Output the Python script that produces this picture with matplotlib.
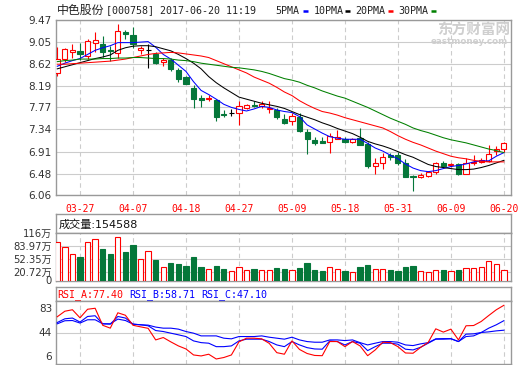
import matplotlib
matplotlib.use('Agg')
import matplotlib.pyplot as plt
from matplotlib.patches import Rectangle
from matplotlib.lines import Line2D
from matplotlib.transforms import offset_copy
import numpy as np

plt.rcParams['font.family'] = ['DejaVu Sans', 'Noto Sans CJK SC']

# --- data ---
dates = ['03-22', '03-23', '03-24', '03-27', '03-28', '03-29', '03-30', '03-31', '04-05', '04-06',
         '04-07', '04-10', '04-11', '04-12', '04-13', '04-14', '04-17', '04-18', '04-19', '04-20',
         '04-21', '04-24', '04-25', '04-26', '04-27', '04-28', '05-02', '05-03', '05-04', '05-05',
         '05-08', '05-09', '05-10', '05-11', '05-12', '05-15', '05-16', '05-17', '05-18', '05-19',
         '05-22', '05-23', '05-24', '05-25', '05-26', '05-31', '06-01', '06-02', '06-05', '06-06',
         '06-07', '06-08', '06-09', '06-12', '06-13', '06-14', '06-15', '06-16', '06-19', '06-20']

opens = [8.43, 8.72, 8.85, 8.86, 8.76, 9.03, 9.00, 8.89, 8.82, 9.23,
         9.18, 8.89, 8.89, 8.80, 8.66, 8.69, 8.49, 8.37, 8.15, 7.95,
         7.93, 7.92, 7.65, 7.66, 7.66, 7.75, 7.82, 7.80, 7.73, 7.71,
         7.55, 7.50, 7.59, 7.30, 7.14, 7.12, 7.10, 7.15, 7.15, 7.10,
         7.17, 7.06, 6.63, 6.68, 6.84, 6.85, 6.69, 6.44, 6.42, 6.43,
         6.52, 6.69, 6.65, 6.66, 6.48, 6.68, 6.71, 6.73, 6.92, 6.96]
highs = [8.95, 8.92, 9.00, 9.02, 9.10, 9.23, 9.16, 8.97, 9.39, 9.27,
         9.34, 8.97, 9.01, 8.85, 8.74, 8.74, 8.54, 8.38, 8.20, 8.02,
         8.02, 7.94, 7.71, 7.74, 7.89, 7.83, 7.90, 7.90, 7.89, 7.76,
         7.65, 7.66, 7.66, 7.35, 7.19, 7.19, 7.27, 7.33, 7.19, 7.17,
         7.37, 7.09, 6.78, 6.88, 6.88, 6.90, 6.76, 6.45, 6.50, 6.53,
         6.71, 6.73, 6.69, 6.69, 6.78, 6.84, 6.78, 7.04, 7.01, 7.10]
lows = [8.38, 8.65, 8.73, 8.70, 8.71, 8.85, 8.75, 8.68, 8.73, 9.10,
        8.93, 8.81, 8.54, 8.62, 8.57, 8.48, 8.26, 8.22, 7.76, 7.78,
        7.89, 7.51, 7.59, 7.61, 7.42, 7.74, 7.77, 7.76, 7.66, 7.54,
        7.45, 7.42, 7.30, 6.86, 7.04, 7.07, 6.89, 7.15, 7.07, 7.07,
        7.03, 6.59, 6.47, 6.58, 6.75, 6.65, 6.41, 6.14, 6.39, 6.42,
        6.47, 6.62, 6.62, 6.45, 6.47, 6.65, 6.68, 6.71, 6.84, 6.91]
closes = [8.72, 8.90, 8.89, 8.80, 9.06, 9.08, 8.84, 8.86, 9.25, 9.19,
          9.00, 8.93, 8.89, 8.64, 8.69, 8.51, 8.33, 8.23, 7.93, 7.92,
          7.95, 7.59, 7.63, 7.66, 7.80, 7.82, 7.79, 7.84, 7.76, 7.58,
          7.47, 7.61, 7.31, 7.16, 7.08, 7.08, 7.22, 7.19, 7.10, 7.15,
          7.04, 6.63, 6.69, 6.80, 6.81, 6.69, 6.42, 6.42, 6.45, 6.52,
          6.69, 6.63, 6.67, 6.48, 6.69, 6.71, 6.74, 6.86, 6.97, 7.07]

ma5 = [8.57, 8.63, 8.68, 8.72, 8.80, 8.88, 8.93, 8.97, 9.03, 9.03,
       9.03, 9.04, 9.05, 8.94, 8.80, 8.71, 8.59, 8.47, 8.27, 8.10,
       8.02, 7.93, 7.83, 7.77, 7.73, 7.70, 7.74, 7.79, 7.77, 7.72,
       7.69, 7.67, 7.59, 7.43, 7.35, 7.27, 7.20, 7.17, 7.15, 7.15,
       7.15, 7.07, 6.98, 6.92, 6.84, 6.77, 6.67, 6.59, 6.54, 6.52,
       6.54, 6.58, 6.62, 6.64, 6.67, 6.71, 6.73, 6.73, 6.82, 6.89]
ma10 = [8.52, 8.56, 8.60, 8.64, 8.68, 8.72, 8.75, 8.79, 8.88, 8.93,
        8.96, 8.97, 8.97, 8.95, 8.91, 8.87, 8.80, 8.72, 8.63, 8.52,
        8.37, 8.25, 8.15, 8.06, 7.97, 7.93, 7.89, 7.85, 7.82, 7.79,
        7.75, 7.69, 7.63, 7.58, 7.53, 7.47, 7.42, 7.36, 7.31, 7.26,
        7.19, 7.11, 7.06, 7.02, 6.97, 6.91, 6.85, 6.80, 6.73, 6.66,
        6.62, 6.60, 6.58, 6.56, 6.56, 6.57, 6.60, 6.64, 6.69, 6.74]
ma20 = [8.61, 8.61, 8.62, 8.63, 8.64, 8.65, 8.66, 8.67, 8.69, 8.71,
        8.74, 8.77, 8.80, 8.82, 8.83, 8.84, 8.83, 8.81, 8.79, 8.77,
        8.74, 8.68, 8.62, 8.56, 8.50, 8.44, 8.36, 8.30, 8.24, 8.16,
        8.07, 8.00, 7.90, 7.82, 7.75, 7.69, 7.66, 7.62, 7.57, 7.53,
        7.49, 7.45, 7.41, 7.37, 7.30, 7.22, 7.15, 7.09, 7.04, 6.98,
        6.92, 6.87, 6.82, 6.79, 6.77, 6.74, 6.72, 6.71, 6.71, 6.71]
ma30 = [8.66, 8.68, 8.69, 8.71, 8.71, 8.71, 8.72, 8.72, 8.73, 8.73,
        8.74, 8.74, 8.73, 8.72, 8.72, 8.71, 8.69, 8.68, 8.66, 8.63,
        8.61, 8.59, 8.57, 8.55, 8.54, 8.52, 8.50, 8.47, 8.43, 8.38,
        8.33, 8.30, 8.26, 8.20, 8.15, 8.09, 8.04, 7.99, 7.95, 7.89,
        7.83, 7.77, 7.70, 7.63, 7.56, 7.50, 7.44, 7.37, 7.32, 7.28,
        7.23, 7.18, 7.14, 7.11, 7.08, 7.04, 7.00, 6.96, 6.93, 6.89]

# volume in 万
volume = [93.0, 80.7, 64.0, 56.8, 93.0, 100.4, 76.5, 65.0, 105.4, 69.0,
          86.4, 51.0, 70.8, 49.4, 33.8, 42.0, 39.5, 34.6, 56.8, 32.0,
          27.0, 34.6, 27.0, 23.9, 33.8, 24.7, 27.0, 24.7, 26.3, 30.4,
          28.0, 24.7, 30.4, 42.8, 24.7, 22.2, 32.0, 27.0, 23.0, 19.7,
          32.0, 37.0, 27.0, 27.0, 24.7, 22.2, 32.0, 34.6, 22.2, 19.7,
          26.3, 24.7, 22.2, 24.7, 31.3, 29.6, 32.0, 46.9, 39.5, 24.7]

rsi_a = [63.5, 70.2, 72.0, 62.2, 72.6, 73.8, 53.1, 49.6, 68.3, 65.3,
         53.1, 51.2, 49.4, 35.3, 38.2, 32.9, 28.0, 24.3, 17.0, 15.8,
         17.9, 12.1, 13.9, 17.0, 32.9, 37.4, 37.4, 36.6, 31.1, 19.8,
         17.9, 34.1, 23.7, 18.8, 16.4, 16.1, 33.3, 33.3, 27.1, 33.3,
         28.0, 16.1, 23.1, 32.5, 32.0, 27.1, 19.4, 19.1, 26.2, 32.3,
         48.8, 44.8, 48.4, 35.3, 52.5, 52.8, 57.7, 65.0, 72.0, 77.4]
rsi_b = [56.5, 61.0, 61.9, 57.0, 63.8, 64.7, 54.9, 54.5, 63.8, 61.9,
         54.5, 53.7, 52.5, 46.7, 45.5, 43.5, 41.5, 39.4, 34.1, 32.0,
         31.3, 27.1, 27.1, 28.0, 34.1, 36.2, 36.2, 36.2, 33.3, 29.2,
         27.1, 33.3, 29.2, 25.9, 24.3, 24.0, 34.1, 33.3, 29.2, 33.3,
         31.3, 22.3, 27.1, 31.3, 31.3, 30.1, 24.0, 23.1, 26.4, 31.3,
         36.2, 36.2, 36.6, 33.3, 39.4, 40.2, 44.3, 49.6, 53.7, 58.71]
rsi_c = [54.9, 58.6, 58.9, 55.8, 59.8, 59.8, 54.9, 54.9, 60.6, 58.9,
         54.5, 53.7, 53.3, 50.9, 49.6, 49.6, 48.4, 45.5, 43.5, 40.2,
         40.2, 40.2, 37.4, 36.6, 39.4, 39.4, 39.4, 40.2, 38.6, 37.4,
         36.2, 38.6, 35.3, 33.3, 32.5, 32.5, 35.3, 35.3, 34.5, 35.3,
         32.0, 29.2, 31.3, 33.3, 33.3, 32.5, 29.2, 28.4, 30.5, 32.0,
         36.6, 36.9, 36.9, 33.3, 42.3, 42.7, 44.3, 45.1, 46.3, 47.1]

price_ticks = [9.47, 9.05, 8.62, 8.19, 7.77, 7.34, 6.91, 6.48, 6.06]
vol_ticks = [116, 83.97, 52.35, 20.72, 0]
vol_labels = ['116万', '83.97万', '52.35万', '20.72万', '0']
rsi_ticks = [83, 44, 6]

stock_name = '中色股份'
stock_info = '[000758] 2017-06-20 11:19'
vol_title = '成交量:154588'
ma_names = ['5PMA', '10PMA', '20PMA', '30PMA']
ma_colors = ['#0000ff', '#000000', '#ff0000', '#008000']

# --- layout ---
W, H = 520, 365
UP = '#ff0000'
DOWN = '#05773a'
FRAME = '#999999'
GRID = '#cccccc'
TXT = '#333333'
MONO = 'DejaVu Sans Mono'

fig = plt.figure(figsize=(W / 100, H / 100), dpi=100)
fig.patch.set_facecolor('white')


def px_rect(x0, y0, x1, y1):
    return [x0 / W, 1 - y1 / H, (x1 - x0) / W, (y1 - y0) / H]


X0, X1 = 55.7, 510.7
ax_p = fig.add_axes(px_rect(X0, 20, X1, 195.3))
ax_vh = fig.add_axes(px_rect(X0, 214.3, X1, 232.5))
ax_v = fig.add_axes(px_rect(X0, 232.5, X1, 280.5))
ax_rh = fig.add_axes(px_rect(X0, 287.3, X1, 300.7))
ax_r = fig.add_axes(px_rect(X0, 300.7, X1, 364))

x = np.arange(len(dates))
xlim = (-0.21, 59.9)
label_idx = x[3::7]
bw = 0.68

for ax in (ax_p, ax_vh, ax_v, ax_rh, ax_r):
    for s in ax.spines.values():
        s.set_color(FRAME)
        s.set_linewidth(1)
    ax.set_xlim(*xlim)
    ax.tick_params(length=0, colors=TXT, labelsize=7.5, pad=3)

for ax in (ax_vh, ax_rh):
    ax.set_xticks([])
    ax.set_yticks([])
    ax.set_ylim(0, 1)

# --- price panel ---
for i in x:
    o, h, l, c = opens[i], highs[i], lows[i], closes[i]
    col = UP if c > o else (DOWN if c < o else 'black')
    ax_p.vlines(i, l, h, color=col, lw=0.8, zorder=3)
    if c == o:
        ax_p.hlines(c, i - bw / 2, i + bw / 2, color=col, lw=0.8, zorder=4)
    else:
        ax_p.add_patch(Rectangle((i - bw / 2, min(o, c)), bw, abs(c - o),
                                 facecolor='white' if c > o else col,
                                 edgecolor=col, lw=0.8, zorder=4))

for ma, col in zip([ma5, ma10, ma20, ma30], ma_colors):
    ax_p.plot(x, ma, color=col, lw=0.75, zorder=5)

ax_p.set_ylim(price_ticks[-1], price_ticks[0])
ax_p.set_yticks(price_ticks)
ax_p.set_yticklabels([f'{v:.2f}' for v in price_ticks])
ax_p.set_xticks(label_idx)
ax_p.set_xticklabels([dates[i] for i in label_idx], color='#ff0000',
                     fontsize=7, family=MONO)
ax_p.tick_params(axis='x', pad=6)
for v in price_ticks:
    ax_p.axhline(v, color=GRID, lw=0.8, zorder=1)

# --- volume panel ---
vol_cols = [UP if closes[i] >= opens[i] else DOWN for i in x]
ax_v.bar(x, volume, width=0.7, color=['white' if c == UP else c for c in vol_cols],
         edgecolor=vol_cols, lw=0.8, zorder=3)
ax_v.set_ylim(0, 116)
ax_v.set_yticks(vol_ticks)
ax_v.set_yticklabels(vol_labels, fontsize=7.2)
ax_v.set_xticks([])
for v in vol_ticks[1:-1]:
    ax_v.axhline(v, color=GRID, lw=0.8, zorder=1)
ax_vh.text(0.006, 0.45, vol_title, transform=ax_vh.transAxes, ha='left', va='center',
           fontsize=8, color='#111111')

# --- RSI panel ---
ax_r.plot(x, rsi_c, color='#0000ff', lw=0.8, zorder=3)
ax_r.plot(x, rsi_b, color='#0000ff', lw=0.8, zorder=3)
ax_r.plot(x, rsi_a, color='#ff0000', lw=0.8, zorder=4)
ax_r.set_ylim(6, 83)
ax_r.set_yticks([])
ax_r.set_xticks([])
ax_r.axhline(44, color=GRID, lw=0.8, zorder=1)
ytr = ax_r.get_yaxis_transform()
# top and bottom labels sit inside the panel, as in the original
for v, dy in zip(rsi_ticks, [-8, 0, 7]):
    ax_r.text(-0.008, v, str(v), transform=offset_copy(ytr, fig=fig, y=dy, units='dots'),
              ha='right', va='center', fontsize=7.5, color=TXT)

rsi_names = ['RSI_A:%.2f' % rsi_a[-1], 'RSI_B:%.2f' % rsi_b[-1], 'RSI_C:%.2f' % rsi_c[-1]]
for name, col, px in zip(rsi_names, ['#ff0000', '#0000ff', '#0000ff'], [57.3, 129, 201]):
    ax_rh.text((px - X0) / (X1 - X0), 0.45, name, transform=ax_rh.transAxes,
               ha='left', va='center', fontsize=7.2, family=MONO, color=col)

# dashed vertical grid on all plot panels
for ax in (ax_p, ax_v, ax_r):
    for i in label_idx:
        ax.axvline(i, color=GRID, lw=0.8, ls=(0, (4, 3)), zorder=1)

# --- header texts ---
def fx(px):
    return px / W


def fy(py):
    return 1 - py / H


fig.text(fx(57.3), fy(10.5), stock_name, ha='left', va='center', fontsize=8.6,
         family=['Noto Sans CJK SC'], color='#222222')
fig.text(fx(106), fy(10.5), stock_info, ha='left', va='center', fontsize=7.2,
         family=MONO, color='#222222')

legend_x = [275.7, 313.3, 355.7, 398.3]
dash_x = [302.7, 345.0, 388.0, 430.7]
for name, col, lx, dx in zip(ma_names, ma_colors, legend_x, dash_x):
    fig.text(fx(lx), fy(10.5), name, ha='left', va='center', fontsize=7.2,
             family=MONO, color='#222222')
    fig.add_artist(Line2D([fx(dx), fx(dx + 5.3)], [fy(11.3), fy(11.3)], color=col,
                          lw=1.8, solid_capstyle='butt'))

# watermark
fig.text(fx(474), fy(29.5), '东方财富网', ha='center', va='center', fontsize=10.5,
         family=['Noto Sans CJK SC'], fontweight='bold', color='#cfcfcf')
fig.text(fx(469), fy(41), 'eastmoney.com', ha='center', va='center', fontsize=6.3,
         fontweight='bold', color='#cfcfcf')

fig.savefig('out.png', dpi=100)
